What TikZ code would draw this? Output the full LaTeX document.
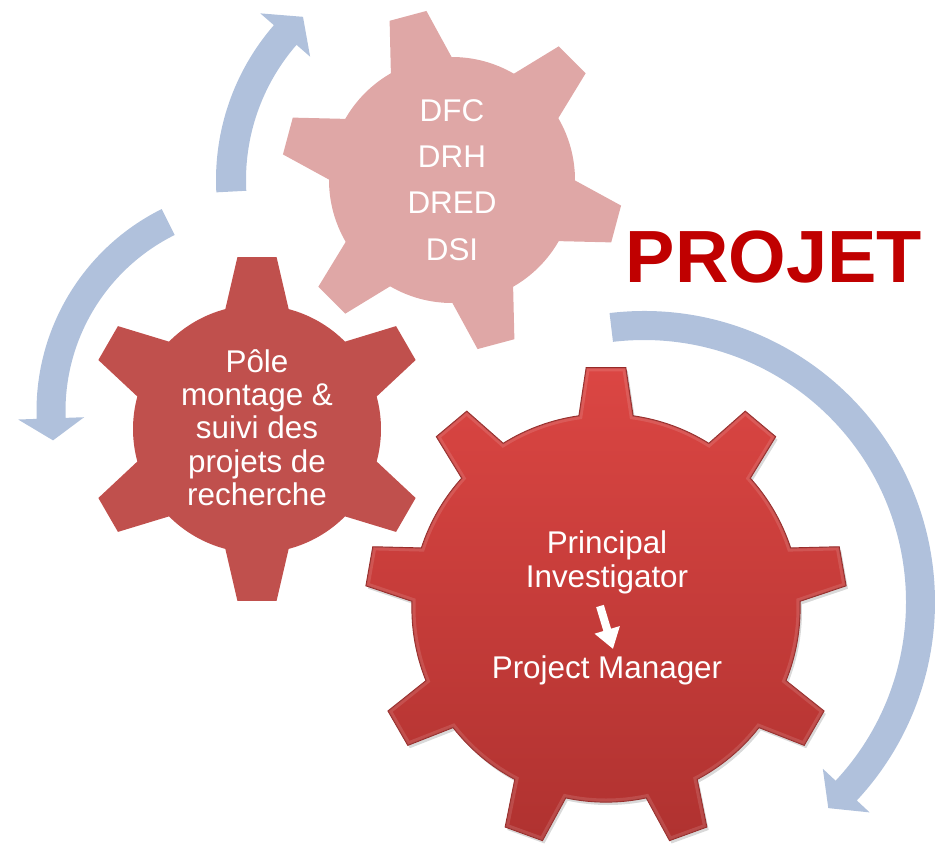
\documentclass[tikz,border=0pt]{standalone}
\usepackage{fontspec}
\setmainfont{Liberation Sans}
\usetikzlibrary{shadows,arrows.meta}

\definecolor{arrowblue}{RGB}{176,193,220}
\definecolor{pinkgear}{RGB}{223,167,166}
\definecolor{midgear}{RGB}{192,80,77}
\definecolor{biggeartop}{RGB}{219,70,67}
\definecolor{biggearbot}{RGB}{176,50,48}
\definecolor{biggearedge}{RGB}{150,38,36}
\definecolor{projred}{RGB}{192,0,0}

% #1 teeth, #2 first tooth angle, #3 body radius, #4 outer radius,
% #5 half angle at base, #6 half angle at tip
\newcommand{\gearshape}[6]{%
  ({#2-#5}:#3) \foreach \k in {1,...,#1}{
    -- ({#2+(\k-1)*360/#1-#5}:#3) -- ({#2+(\k-1)*360/#1-#6}:#4)
    -- ({#2+(\k-1)*360/#1+#6}:#4) -- ({#2+(\k-1)*360/#1+#5}:#3)
    arc[start angle={#2+(\k-1)*360/#1+#5}, end angle={#2+\k*360/#1-#5}, radius=#3]
  } -- cycle}

% #1 radius, #2 half width, #3 tail angle, #4 head base angle, #5 tip angle, #6 barb half width
\newcommand{\circarrow}[6]{%
  ({#3}:{#1+#2}) arc[start angle={#3}, end angle={#4}, radius={#1+#2}]
  -- ({#4}:{#1+#6}) -- ({#5}:{#1}) -- ({#4}:{#1-#6}) -- ({#4}:{#1-#2})
  arc[start angle={#4}, end angle={#3}, radius={#1-#2}] -- cycle}

\tikzset{
  gtxt/.style={text=white, font=\fontsize{31.4}{33}\selectfont, inner sep=0pt, anchor=base},
  bluearrow/.style={fill=arrowblue},
  projtxt/.style={font=\fontsize{74}{80}\selectfont\bfseries, inner sep=0pt, anchor=base},
}

\begin{document}
\begin{tikzpicture}[x=1pt,y=1pt]
\useasboundingbox (0,0) rectangle (938,-844);

% circular arrows
\begin{scope}[shift={(452,-180)}]
  \fill[bluearrow] \circarrow{221}{15}{183}{139}{132.4}{33};
\end{scope}
\begin{scope}[shift={(262,-411)}]
  \fill[bluearrow] \circarrow{211}{14.5}{116.4}{182}{188}{33};
\end{scope}
\begin{scope}[shift={(644,-602)}]
  \fill[bluearrow] \circarrow{276.5}{14.5}{96.8}{-43}{-48.2}{32};
\end{scope}

% small top gear
\begin{scope}[shift={(452,-180)}]
  \fill[pinkgear] \gearshape{6}{105}{123}{171}{14.8}{6.4};
\end{scope}

% medium gear
\begin{scope}[shift={(257,-429)}]
  \fill[midgear] \gearshape{6}{90}{124}{173}{14.8}{6.5};
\end{scope}

% large gear
\begin{scope}[shift={(606,-608)}]
  \shade[top color=biggeartop, bottom color=biggearbot, draw=biggearedge, line width=1.2pt,
         drop shadow={shadow xshift=2pt, shadow yshift=-3pt, opacity=.3}]
     \gearshape{9}{90}{194}{241}{8}{4.7};
  \begin{scope}
    \clip \gearshape{9}{90}{194}{241}{8}{4.7};
    \draw[white, opacity=.12, line width=7pt] \gearshape{9}{90}{194}{241}{8}{4.7};
  \end{scope}
\end{scope}

% texts of the small gear
\node[gtxt] (dfc)  at (452,-121) {DFC};
\node[gtxt] (drh)  at (452,-167.3) {DRH};
\node[gtxt] (dred) at (452,-213.6) {DRED};
\node[gtxt] (dsi)  at (452,-260) {DSI};

% texts of the medium gear
\node[gtxt] (pole)  at (257,-372) {Pôle};
\node[gtxt] (mont)  at (257,-405.5) {montage \&};
\node[gtxt] (suivi) at (257,-438.8) {suivi des};
\node[gtxt] (proj)  at (257,-472) {projets de};
\node[gtxt] (rech)  at (257,-505) {recherche};

% texts of the large gear
\node[gtxt] (princ) at (607,-553) {Principal};
\node[gtxt] (inv)   at (607,-587) {Investigator};
\node[gtxt] (pm)    at (607,-678) {Project Manager};
\coordinate (pmstart) at (600,-606);
\coordinate (pmend) at (613,-649);
\draw[white, line width=8pt, -{Triangle[width=25pt,length=20pt]}] (pmstart) -- (pmend);

% title
\node[projtxt, text=projred] (projet) at (774,-282) {PROJET};
\end{tikzpicture}
\end{document}
